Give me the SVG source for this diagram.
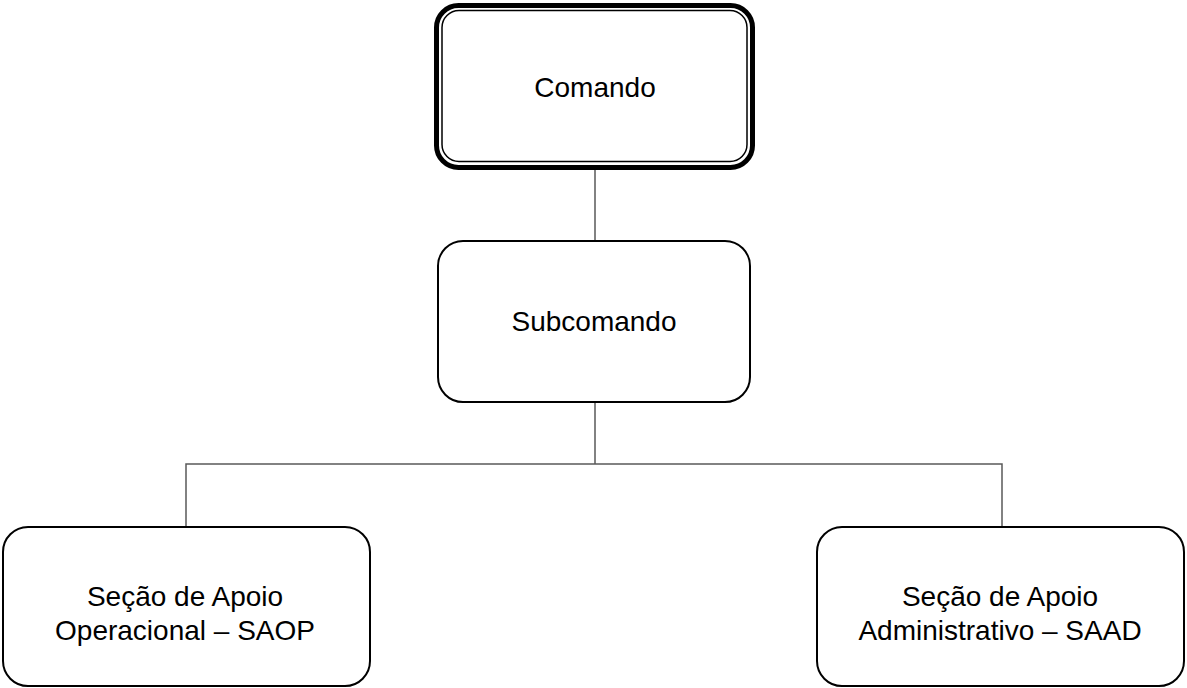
<svg xmlns="http://www.w3.org/2000/svg" width="1187" height="688" viewBox="0 0 1187 688">
<style>
.box{fill:#fff;stroke:#000;stroke-width:2}
.thick{fill:#fff;stroke:#000;stroke-width:5}
.thin{fill:none;stroke:#000;stroke-width:1.5}
.lbl{font-family:"Liberation Sans",Arial,sans-serif;font-size:28px;fill:#000;text-anchor:middle}
.conn{fill:none;stroke:#595959;stroke-width:1.5}
</style>
<rect width="1187" height="688" fill="#fff"/>
<g id="connectors">
<line class="conn" x1="595" y1="170" x2="595" y2="241"/>
<polyline class="conn" points="595,402 595,464"/>
<polyline class="conn" points="186,527 186,464 1002,464 1002,527"/>
</g>
<g id="comando">
<rect class="thick" x="436.5" y="5.5" width="316" height="162" rx="22"/>
<rect class="thin" x="442" y="10.5" width="305" height="151" rx="17"/>
<text class="lbl" x="595" y="97">Comando</text>
</g>
<g id="subcomando">
<rect class="box" x="438" y="241" width="312" height="161" rx="25"/>
<text class="lbl" x="594" y="331">Subcomando</text>
</g>
<g id="saop">
<rect class="box" x="3" y="527" width="367" height="159" rx="25"/>
<text class="lbl" x="185" y="606">Seção de Apoio</text>
<text class="lbl" x="185" y="640">Operacional – SAOP</text>
</g>
<g id="saad">
<rect class="box" x="817" y="527" width="367" height="159" rx="25"/>
<text class="lbl" x="1000" y="606">Seção de Apoio</text>
<text class="lbl" x="1000" y="640">Administrativo – SAAD</text>
</g>
</svg>
